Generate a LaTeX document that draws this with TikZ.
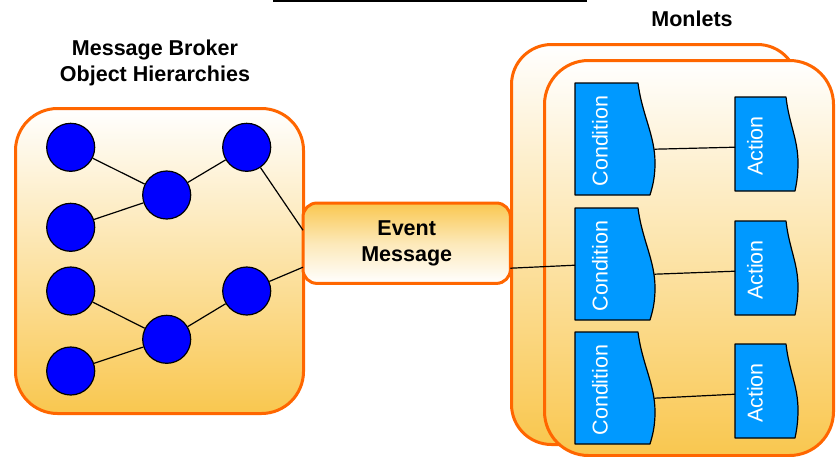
\documentclass[tikz,border=0pt]{standalone}
\usepackage{fontspec}
\setmainfont{Liberation Sans}
\usetikzlibrary{calc}
\definecolor{borange}{HTML}{FF6600}
\definecolor{gold}{HTML}{F9C74F}
\definecolor{condblue}{HTML}{0099FF}
\begin{document}
\begin{tikzpicture}[x=1pt,y=-1pt,
  boxbase/.style={draw=borange,line width=3pt,inner sep=0pt,anchor=north west},
  panel/.style={boxbase,top color=white,bottom color=gold},
  ball/.style={circle,minimum size=48pt,inner sep=0pt,fill=blue,draw=black,line width=1.2pt},
  wire/.style={draw=black,line width=1.2pt},
  docshape/.style={fill=condblue,draw=black,line width=1.2pt,line join=round},
  holder/.style={rectangle,inner sep=0pt,anchor=north west},
  doctext/.style={rotate=90,text=white,font=\fontsize{21.5}{24}\selectfont,inner sep=0pt},
  title/.style={align=center,font=\fontsize{21.5}{26}\selectfont\bfseries,inner sep=0pt}]
\useasboundingbox (0,0) rectangle (840,456);
% top rule
\coordinate (ruleL) at (273,1);
\coordinate (ruleR) at (587,1);
\draw[line width=1.5pt] (ruleL) -- (ruleR);
% titles
\node[title] (brokertitle) at (155,63) {Message Broker\\Object Hierarchies};
\node[title] (monlettitle) at (692,19) {Monlets};
% panels
\node[panel,rounded corners=42pt,minimum width=288pt,minimum height=305pt] (broker) at (14,107) {};
\node[panel,rounded corners=40pt,minimum width=286pt,minimum height=400pt] (monback) at (510,43) {};
\node[panel,rounded corners=44pt,minimum width=289pt,minimum height=395pt] (monfront) at (543,59) {};
% event message box
\node[holder,minimum width=207pt,minimum height=80pt] (ev) at (303,203) {};
\shade[top color=gold,bottom color=white,middle color=gold!40!white,rounded corners=14pt]
   (ev.north west) rectangle (ev.south east);
\draw[borange,line width=3pt,rounded corners=14pt] (ev.north west) rectangle (ev.south east);
\node[align=center,font=\fontsize{21.5}{26}\selectfont\bfseries,inner sep=0pt] (evtext) at (ev.center) {Event\\Message};
% object hierarchy
\node[ball] (n1) at (70.7,147.3) {};
\node[ball] (n2) at (70.7,227.3) {};
\node[ball] (n3) at (70.7,291) {};
\node[ball] (n4) at (70.7,371) {};
\node[ball] (m1) at (166.7,195) {};
\node[ball] (m2) at (166.7,339.3) {};
\node[ball] (r1) at (246.7,147.3) {};
\node[ball] (r2) at (246.7,291) {};
\draw[wire] (n1) -- (m1);
\draw[wire] (n2) -- (m1);
\draw[wire] (m1) -- (r1);
\draw[wire] (n3) -- (m2);
\draw[wire] (n4) -- (m2);
\draw[wire] (m2) -- (r2);
\draw[wire] (r1) -- ($(ev.west)+(0,-13)$);
\draw[wire] (r2) -- ($(ev.west)+(0,24)$);
% conditions and actions
\foreach \i/\ct/\at in {1/83/97, 2/208/221, 3/332/344}{
  \begin{scope}[shift={(575,\ct)}]
    \path[docshape] (0,0) -- (63,0) .. controls (67,32) and (80,52) .. (80,80)
       .. controls (80,96) and (77,105) .. (75,112) -- (0,112) -- cycle;
    \node[holder,minimum width=80pt,minimum height=112pt] (c\i) at (0,0) {};
    \node[doctext] (ct\i) at (25,58) {Condition};
  \end{scope}
  \begin{scope}[shift={(735,\at)}]
    \path[docshape] (0,0) -- (51,0) .. controls (54,27) and (63,42) .. (63,66)
       .. controls (63,80) and (61,89) .. (60,94) -- (0,94) -- cycle;
    \node[holder,minimum width=63pt,minimum height=94pt] (a\i) at (0,0) {};
    \node[doctext] (at\i) at (20,49) {Action};
  \end{scope}
  \draw[wire] ($(c\i.east)+(-1,10)$) -- ($(a\i.west)+(0,3)$);
}
\draw[wire] ($(ev.east)+(0,25)$) -- ($(c2.west)+(0,1)$);
\end{tikzpicture}
\end{document}
